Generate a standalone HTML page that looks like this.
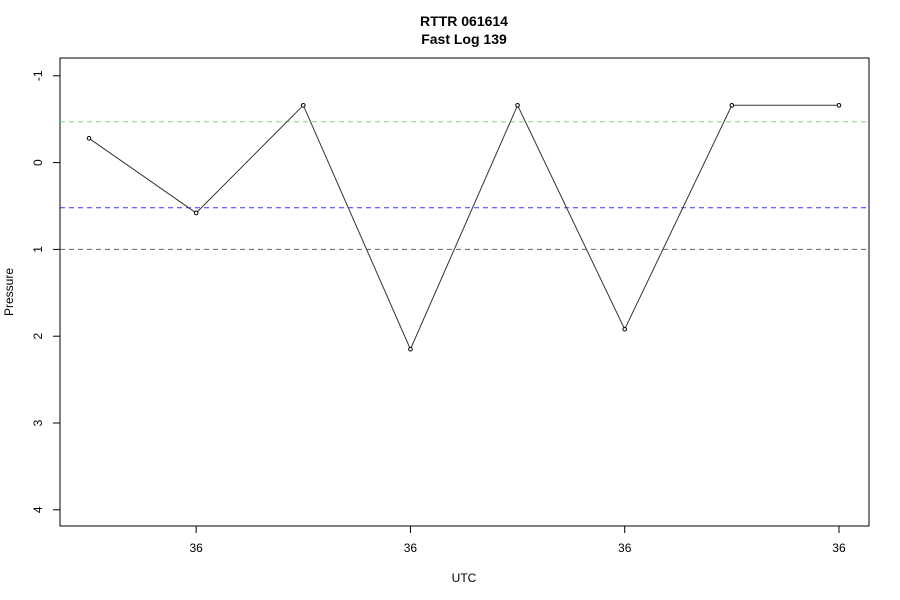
<!DOCTYPE html>
<html><head><meta charset="utf-8"><style>
body{margin:0;background:#fff;}
svg{display:block;font-family:"Liberation Sans",Arial,sans-serif;}
</style></head><body>
<svg id="chart" width="900" height="600">
<text x="464" y="26" text-anchor="middle" font-weight="bold" font-size="14">RTTR 061614</text>
<text x="464" y="44" text-anchor="middle" font-weight="bold" font-size="14">Fast Log 139</text>
<rect x="60" y="58" width="809" height="468" fill="none" stroke="#000"/>
<text x="464" y="582" text-anchor="middle" font-size="12">UTC</text>
<text transform="translate(13,292) rotate(-90)" text-anchor="middle" font-size="12">Pressure</text>
<g id="grid"></g><g id="axes"></g><g id="series"></g>
</svg>
<script>
const values = [-0.28, 0.58, -0.66, 2.15, -0.66, 1.92, -0.66, -0.66];
const xTickIndex = [2, 4, 6, 8];
const xTickLabels = ["36", "36", "36", "36"];
const yTicks = [-1, 0, 1, 2, 3, 4];
const refLines = [-0.47, 0.52, 1.0];
const refColors = ["#7ed87e", "#3333ff", "#666666"];
const NS = "http://www.w3.org/2000/svg";
const xs = i => 89 + (i - 1) * 107.14;
const ys = v => 162.6 + v * 86.8;
function mk(tag, attrs, parent, text){const e=document.createElementNS(NS,tag);for(const k in attrs)e.setAttribute(k,attrs[k]);if(text!=null)e.textContent=text;parent.appendChild(e);return e;}
const grid=document.getElementById('grid'), axes=document.getElementById('axes'), series=document.getElementById('series');
refLines.forEach((v,i)=>{
  const l=mk('line',{x1:60,x2:869,y1:ys(v),y2:ys(v),stroke:refColors[i],'stroke-dasharray':'5,4','stroke-width':1},grid);
  
  
});
yTicks.forEach(t=>{
  const y=ys(t);
  const l=mk('line',{x1:53,x2:60,y1:y,y2:y,stroke:'#000'},axes);
  
  
  const tx=mk('text',{transform:`translate(42,${y}) rotate(-90)`,'text-anchor':'middle','font-size':12},axes,String(t));
  
  
});
xTickIndex.forEach((idx,i)=>{
  const x=xs(idx);
  const l=mk('line',{x1:x,x2:x,y1:526,y2:533,stroke:'#000'},axes);
  
  
  const tx=mk('text',{x:x,y:552,'text-anchor':'middle','font-size':12},axes,xTickLabels[i]);
  
  
});
const pts=values.map((v,i)=>xs(i+1)+','+ys(v)).join(' ');
const pl=mk('polyline',{points:pts,fill:'none',stroke:'#333','stroke-width':1},series);


values.forEach((v,i)=>{
  const c=mk('circle',{cx:xs(i+1),cy:ys(v),r:1.8,fill:'#fff',stroke:'#000','stroke-width':1},series);
  
  
});
</script>
</body></html>
